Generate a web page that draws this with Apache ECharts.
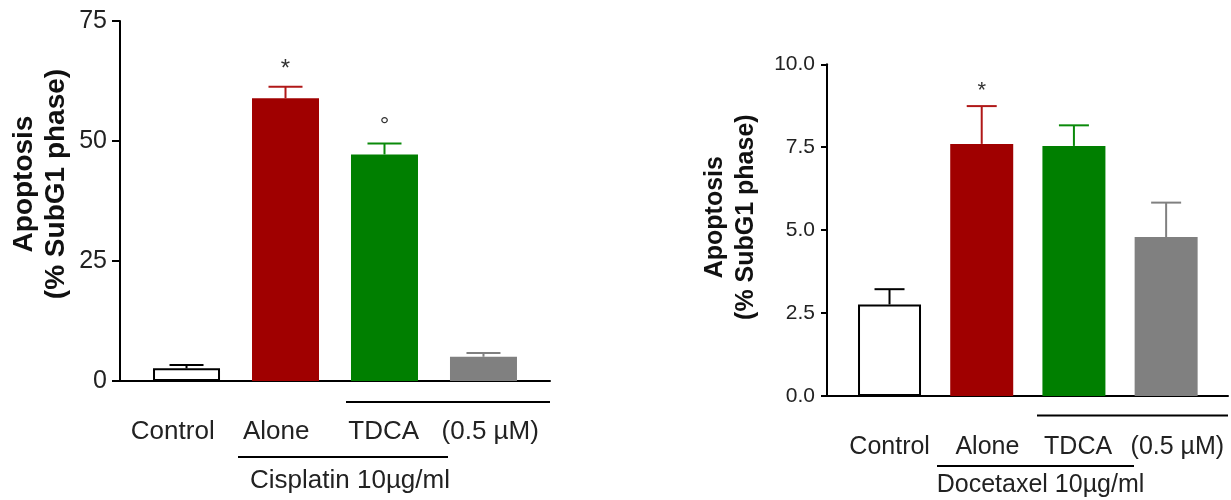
<!DOCTYPE html>
<html>
<head>
<meta charset="utf-8">
<script src="https://cdn.jsdelivr.net/npm/echarts@6/dist/echarts.min.js"></script>
<style>
html,body{margin:0;padding:0;background:#fff;}
#chart{width:1231px;height:500px;}
</style>
</head>
<body>
<div id="chart"></div>
<script>
// ---- data ----
const categories = ['Control', 'Alone', 'TDCA', '(0.5 µM)'];
const cisMeans = [2.65, 58.9, 47.2, 5.05];
const cisErrors = [0.7, 2.4, 2.3, 0.8];
const cisMarks = ['', '*', '°', ''];
const docMeans = [2.76, 7.6, 7.54, 4.79];
const docErrors = [0.46, 1.14, 0.62, 1.04];
const docMarks = ['', '*', '', ''];
const cisTicks = { min: 0, max: 75, interval: 25 };
const docTicks = { min: 0, max: 10, interval: 2.5 };
const groupLabels = ['Cisplatin 10µg/ml', 'Docetaxel 10µg/ml'];
const yTitle = 'Apoptosis\n(% SubG1 phase)';

// ---- style ----
const barColors = ['#ffffff', '#a00000', '#007f00', '#808080'];
const errColors = ['#000000', '#b01818', '#0a8a0a', '#808080'];
const FONT = '"Liberation Sans", Arial, sans-serif';
const TXT = '#222';

function barData(means) {
  return means.map((v, i) => ({
    value: [i, v],
    itemStyle: i === 0
      ? { color: '#ffffff', borderColor: '#000', borderWidth: 2 }
      : { color: barColors[i], borderColor: barColors[i], borderWidth: 0 }
  }));
}
function errData(means, errs) {
  return means.map((v, i) => [i, v, errs[i]]);
}
function errRender(marks, capHalf, fontSize, markGap) {
  return function (params, api) {
    const i = params.dataIndex;
    const x = api.value(0), m = api.value(1), e = api.value(2);
    const p0 = api.coord([x, m]);
    const p1 = api.coord([x, m + e]);
    const c = errColors[i];
    const children = [
      { type: 'line', shape: { x1: p0[0], y1: p0[1], x2: p1[0], y2: p1[1] }, style: { stroke: c, lineWidth: 2 } },
      { type: 'line', shape: { x1: p1[0] - capHalf, y1: p1[1], x2: p1[0] + capHalf, y2: p1[1] }, style: { stroke: c, lineWidth: 2 } }
    ];
    if (marks[i]) {
      children.push({
        type: 'text',
        style: { text: marks[i], x: p1[0], y: p1[1] - markGap, align: 'center', verticalAlign: 'middle',
                 font: fontSize + 'px ' + FONT, fill: '#333' }
      });
    }
    return { type: 'group', children: children };
  };
}
function richLabels(shifts, fontSize) {
  const rich = {};
  shifts.forEach((s, i) => {
    const pad = Math.abs(s) * 2;
    rich['l' + i] = { fontSize: fontSize, fontFamily: FONT, color: TXT,
      padding: s >= 0 ? [0, 0, 0, pad] : [0, pad, 0, 0] };
  });
  return rich;
}

const chart = echarts.init(document.getElementById('chart'), null, { renderer: 'canvas' });
const option = {
  animation: false,
  backgroundColor: '#fff',
  textStyle: { fontFamily: FONT },
  grid: [
    { left: 120, right: 1231 - 550, top: 21, bottom: 500 - 381, containLabel: false },
    { left: 827, right: 3, top: 64.3, bottom: 500 - 396, containLabel: false }
  ],
  xAxis: [
    { type: 'value', gridIndex: 0, position: 'bottom', min: -0.672, max: 3.672,
      axisLine: { show: true, onZero: false, lineStyle: { color: '#000', width: 2 } },
      axisTick: { show: false }, axisLabel: { show: false }, splitLine: { show: false } },
    { type: 'category', gridIndex: 0, position: 'bottom', data: categories,
      axisLine: { show: false, onZero: false }, axisTick: { show: false }, splitLine: { show: false },
      axisLabel: { margin: 38, fontSize: 26, color: TXT, interval: 0,
        formatter: (v, i) => '{l' + i + '|' + v + '}', rich: richLabels([-1, -5, -5, -6], 26) } },
    { type: 'value', gridIndex: 1, position: 'bottom', min: -0.678, max: 3.671,
      axisLine: { show: true, onZero: false, lineStyle: { color: '#000', width: 2 } },
      axisTick: { show: false }, axisLabel: { show: false }, splitLine: { show: false } },
    { type: 'category', gridIndex: 1, position: 'bottom', data: categories,
      axisLine: { show: false, onZero: false }, axisTick: { show: false }, splitLine: { show: false },
      axisLabel: { margin: 39, fontSize: 25, color: TXT, interval: 0,
        formatter: (v, i) => '{l' + i + '|' + v + '}', rich: richLabels([12.5, 10, 0.5, -0.5], 25) } }
  ],
  yAxis: [
    { type: 'value', gridIndex: 0, position: 'left', min: cisTicks.min, max: cisTicks.max, interval: cisTicks.interval,
      axisLine: { show: true, onZero: false, lineStyle: { color: '#000', width: 2 } },
      axisTick: { show: true, length: 8, lineStyle: { color: '#000', width: 2 } },
      axisLabel: { fontSize: 25, color: TXT, margin: 13 },
      splitLine: { show: false },
      name: yTitle, nameLocation: 'middle', nameRotate: 90, nameGap: 48,
      nameTextStyle: { fontSize: 28, fontWeight: 'bold', color: '#111', lineHeight: 32, padding: [0, 0, 0, 34] } },
    { type: 'value', gridIndex: 1, position: 'left', min: docTicks.min, max: docTicks.max, interval: docTicks.interval,
      axisLine: { show: true, onZero: false, lineStyle: { color: '#000', width: 2 } },
      axisTick: { show: true, length: 6, lineStyle: { color: '#000', width: 2 } },
      axisLabel: { fontSize: 21, color: TXT, margin: 12, formatter: v => v.toFixed(1) },
      splitLine: { show: false },
      name: yTitle, nameLocation: 'middle', nameRotate: 90, nameGap: 65,
      nameTextStyle: { fontSize: 25, fontWeight: 'bold', color: '#111', lineHeight: 31, padding: [0, 0, 0, 26] } }
  ],
  series: [
    { type: 'bar', xAxisIndex: 0, yAxisIndex: 0, barWidth: 67, data: barData(cisMeans), z: 2 },
    { type: 'custom', xAxisIndex: 0, yAxisIndex: 0, data: errData(cisMeans, cisErrors),
      encode: { x: 0, y: 1 }, clip: false, z: 3, renderItem: errRender(cisMarks, 17, 24, 17) },
    { type: 'bar', xAxisIndex: 2, yAxisIndex: 1, barWidth: 63, data: barData(docMeans), z: 2 },
    { type: 'custom', xAxisIndex: 2, yAxisIndex: 1, data: errData(docMeans, docErrors),
      encode: { x: 0, y: 1 }, clip: false, z: 3, renderItem: errRender(docMarks, 15, 22, 15) }
  ],
  graphic: [
    { type: 'line', shape: { x1: 346, y1: 402, x2: 550, y2: 402 }, style: { stroke: '#000', lineWidth: 2 } },
    { type: 'line', shape: { x1: 238, y1: 457, x2: 448, y2: 457 }, style: { stroke: '#000', lineWidth: 2 } },
    { type: 'text', x: 350, y: 481, style: { text: groupLabels[0], font: '26px ' + FONT, fill: TXT, align: 'center', verticalAlign: 'middle' } },
    { type: 'line', shape: { x1: 1037, y1: 415.5, x2: 1228, y2: 415.5 }, style: { stroke: '#000', lineWidth: 2 } },
    { type: 'line', shape: { x1: 937, y1: 466, x2: 1134, y2: 466 }, style: { stroke: '#000', lineWidth: 2 } },
    { type: 'text', x: 1040.5, y: 485, style: { text: groupLabels[1], font: '25px ' + FONT, fill: TXT, align: 'center', verticalAlign: 'middle' } }
  ]
};
chart.setOption(option);
</script>
</body>
</html>
